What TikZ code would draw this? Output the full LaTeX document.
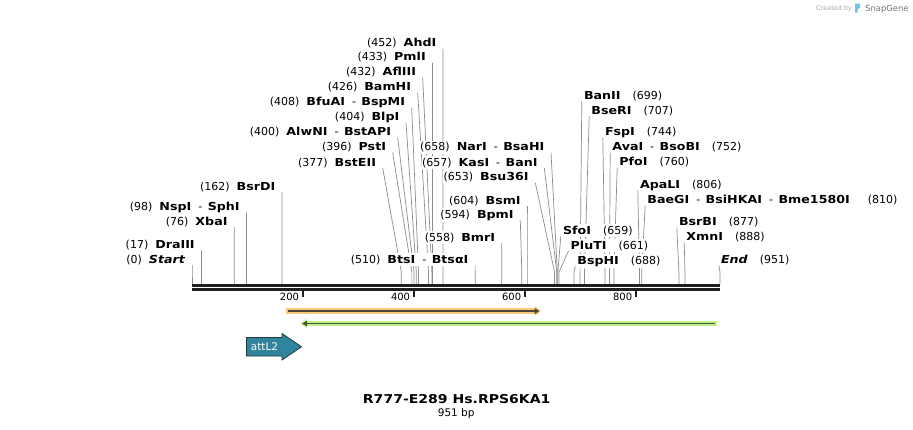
\documentclass[tikz,border=0pt]{standalone}
\usepackage{fontspec}
\setmainfont{DejaVu Sans}[
  BoldFeatures={FakeStretch=1.15},
  BoldItalicFeatures={FakeStretch=1.15}]
\usepackage{xcolor}
\usepackage{tikz}
\usetikzlibrary{arrows.meta, calc, backgrounds}

\definecolor{naranja}{RGB}{250,200,120}
\definecolor{verdeclaro}{RGB}{190,240,140}
\definecolor{oscuro}{RGB}{72,72,58}
\definecolor{oscurov}{RGB}{66,84,52}
\definecolor{azulattl}{RGB}{49,132,155}
\definecolor{bordeattl}{RGB}{30,58,68}
\definecolor{logoazul}{RGB}{110,195,235}

\newcommand{\guion}{\hspace{7pt}-\hspace{5.5pt}}

\begin{document}
\begin{tikzpicture}[x=1pt, y=-1pt,
  enz/.style={font=\fontsize{11}{13}\selectfont, inner xsep=0.5pt, inner ysep=1.5pt, fill=white},
  guia/.style={draw=black!45, line width=0.7pt},
  regla/.style={draw=black!88, line width=2.6pt},
  marca/.style={draw=black!88, line width=1.8pt}]
  \useasboundingbox (0,0) rectangle (913,429);

  % Sitios a la izquierda
  \foreach \n/\p/\x/\y/\t in {
    start/0/186/263.3/{(0)\hspace{7pt}\textbf{\textit{Start}}},
    draiii/17/195.4/248.3/{(17)\hspace{7pt}\textbf{DraIII}},
    xbai/76/228.2/225/{(76)\hspace{7pt}\textbf{XbaI}},
    nspi/98/240.4/210.7/{(98)\hspace{7pt}\textbf{NspI}\guion\textbf{SphI}},
    bsrdi/162/276/190/{(162)\hspace{7pt}\textbf{BsrDI}},
    bsteii/377/376.7/166/{(377)\hspace{7pt}\textbf{BstEII}},
    psti/396/386.7/150.7/{(396)\hspace{7pt}\textbf{PstI}},
    alwni/400/391.7/135.7/{(400)\hspace{7pt}\textbf{AlwNI}\guion\textbf{BstAPI}},
    blpi/404/400/120.7/{(404)\hspace{7pt}\textbf{BlpI}},
    bfuai/408/405.7/105.7/{(408)\hspace{7pt}\textbf{BfuAI}\guion\textbf{BspMI}},
    bamhi/426/411.7/90.7/{(426)\hspace{7pt}\textbf{BamHI}},
    afliii/432/416.7/75.7/{(432)\hspace{7pt}\textbf{AflIII}},
    pmli/433/426.4/60.7/{(433)\hspace{7pt}\textbf{PmlI}},
    ahdi/452/437/46.7/{(452)\hspace{7pt}\textbf{AhdI}},
    btsi/510/469.1/263.3/{(510)\hspace{7pt}\textbf{BtsI}\guion\textbf{BtsαI}},
    bmri/558/495.8/241/{(558)\hspace{7pt}\textbf{BmrI}},
    bpmi/594/514.3/218.3/{(594)\hspace{7pt}\textbf{BpmI}},
    bsmi/604/521.4/204/{(604)\hspace{7pt}\textbf{BsmI}},
    bsu36i/653/529.3/180.7/{(653)\hspace{7pt}\textbf{Bsu36I}},
    kasi/657/538.3/166/{(657)\hspace{7pt}\textbf{KasI}\guion\textbf{BanI}},
    nari/658/545/150.7/{(658)\hspace{7pt}\textbf{NarI}\guion\textbf{BsaHI}}} {
    \node[enz, anchor=base east] (\n) at (\x,\y) {\t};
    \coordinate (\n-c) at ({192+\p*0.5552},272);
    \coordinate (\n-r) at ({192+\p*0.5552},284);
    \begin{scope}[on background layer]
      \draw[guia] ([shift={(6,2)}]\n.base east) -- (\n-c) -- (\n-r);
    \end{scope}
  }

  % Sitios a la derecha
  \foreach \n/\p/\x/\y/\t in {
    sfoi/659/562.3/234/{\textbf{SfoI}\hspace{12pt}(659)},
    pluti/661/570/249/{\textbf{PluTI}\hspace{12pt}(661)},
    bsphi/688/576.7/264/{\textbf{BspHI}\hspace{12pt}(688)},
    banii/699/583.3/99/{\textbf{BanII}\hspace{12pt}(699)},
    bseri/707/590.7/114/{\textbf{BseRI}\hspace{12pt}(707)},
    fspi/744/604.3/135.7/{\textbf{FspI}\hspace{12pt}(744)},
    avai/752/611.7/150.7/{\textbf{AvaI}\guion\textbf{BsoBI}\hspace{12pt}(752)},
    pfoi/760/618.7/165.7/{\textbf{PfoI}\hspace{12pt}(760)},
    apali/806/639.3/188.3/{\textbf{ApaLI}\hspace{12pt}(806)},
    baegi/810/646.7/203.3/{\textbf{BaeGI}\guion\textbf{BsiHKAI}\guion\textbf{Bme1580I}\hspace{18pt}(810)},
    bsrbi/877/678.3/225.7/{\textbf{BsrBI}\hspace{12pt}(877)},
    xmni/888/685.7/240.7/{\textbf{XmnI}\hspace{12pt}(888)},
    fin/951/720.3/263.3/{\textbf{\textit{End}}\hspace{12pt}(951)}} {
    \node[enz, anchor=base west] (\n) at (\x,\y) {\t};
    \coordinate (\n-c) at ({192+\p*0.5552},272);
    \coordinate (\n-r) at ({192+\p*0.5552},284);
    \begin{scope}[on background layer]
      \draw[guia] ([shift={(-1.5,2)}]\n.base west) -- (\n-c) -- (\n-r);
    \end{scope}
  }

  % Regla
  \coordinate (inicio) at (192,285.3);
  \coordinate (final) at (720,285.3);
  \draw[regla] (inicio) -- (final);
  \draw[regla] ($(inicio)+(0,4.1)$) -- ($(final)+(0,4.1)$);
  \foreach \t in {200,400,600,800} {
    \coordinate (t\t) at ({192+\t*0.5552},290.6);
    \draw[marca] (t\t) -- ++(0,6.2);
    \node[anchor=base east, inner sep=0pt, font=\fontsize{10}{12}\selectfont]
      (l\t) at ($(t\t)+(-3.8,9.6)$) {\t};
  }

  % Rasgos
  \coordinate (o1) at (286,311);
  \coordinate (o2) at (541,311);
  \draw[naranja, line width=5.4pt, -{Triangle[length=6pt,width=9.5pt]}] (o1) -- (o2);
  \draw[oscuro, line width=1.3pt, -{Triangle[length=5pt,width=5.5pt]}]
    ($(o1)+(2,0)$) -- ($(o2)+(-1.5,0)$);

  \coordinate (g1) at (716.7,323.5);
  \coordinate (g2) at (300.7,323.5);
  \draw[verdeclaro, line width=5.4pt, -{Triangle[length=6pt,width=9.5pt]}] (g1) -- (g2);
  \draw[oscurov, line width=1.3pt, -{Triangle[length=5pt,width=5.5pt]}]
    ($(g1)+(-2,0)$) -- ($(g2)+(1.5,0)$);

  \filldraw[fill=azulattl, draw=bordeattl, line width=0.8pt]
    (246.5,337.5) -- (282,337.5) -- (282,333.5) -- (301.5,346.75)
    -- (282,360) -- (282,356) -- (246.5,356) -- cycle;
  \node[text=white, inner sep=0pt, font=\fontsize{10.5}{12}\selectfont]
    (attl2) at (264.5,346.7) {attL2};

  % Titulo
  \node[anchor=base, inner sep=0pt, font=\bfseries\fontsize{12.2}{14}\selectfont]
    (titulo) at (456.7,403.3) {R777-E289 Hs.RPS6KA1};
  \node[anchor=base, inner sep=0pt, font=\fontsize{10.5}{12}\selectfont]
    (largo) at (456.2,416) {951 bp};

  % Marca de SnapGene
  \node[anchor=base west, inner sep=0pt, text=black!35, font=\fontsize{6.5}{8}\selectfont]
    (creado) at (816,10.6) {Created by};
  \fill[logoazul] (855,3.5) -- (860,3.5) -- (860,7.5) -- (857.6,9.3)
    -- (857.6,12.6) -- (855,12.6) -- cycle;
  \node[anchor=base west, inner sep=0pt, text=black!55, font=\fontsize{8.4}{10}\selectfont]
    (snap) at (865,11.7) {SnapGene};
\end{tikzpicture}
\end{document}
